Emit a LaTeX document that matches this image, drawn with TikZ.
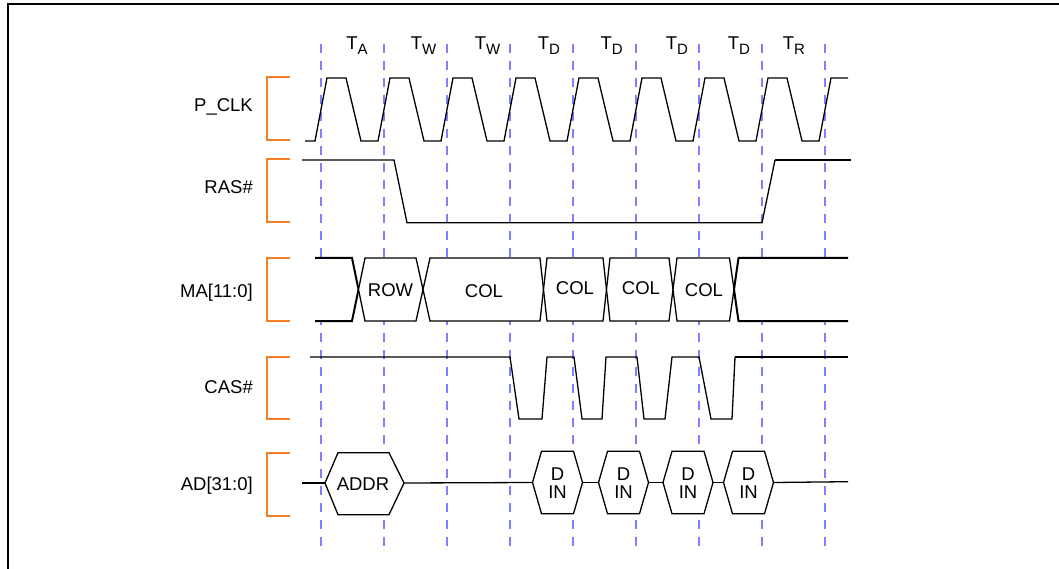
\documentclass[tikz,border=0pt]{standalone}
\usepackage{fontspec}
\setmainfont{Liberation Sans}
\definecolor{gridblue}{RGB}{128,128,255}
\definecolor{brorange}{RGB}{245,125,35}
\newcommand{\Tsub}[1]{T\raisebox{-5bp}{\fontsize{15bp}{15bp}\selectfont #1}}
\begin{document}
\begin{tikzpicture}[x=1bp,y=-1bp,
  sig/.style={draw=black, line width=1.3bp, line join=miter},
  heavy/.style={draw=black, line width=2bp},
  gridline/.style={draw=gridblue, line width=2bp, dash pattern=on 9bp off 8bp},
  brk/.style={draw=brorange, line width=2bp},
  lab/.style={font=\fontsize{18.5bp}{22bp}\selectfont, inner sep=0pt, anchor=base east},
  tlab/.style={font=\fontsize{18.5bp}{22bp}\selectfont, inner sep=0pt, anchor=base},
  bustxt/.style={font=\fontsize{18.5bp}{17.6bp}\selectfont, inner sep=0pt, align=center}
]
\useasboundingbox (0,0) rectangle (1059,569);
% frame
\draw[line width=2bp] (7.7,569) -- (7.7,4.2) -- (1059,4.2);

% grid lines
\foreach \i in {0,...,8}
  \draw[gridline] ({321+63*\i},44) -- ({321+63*\i},548);

% time labels
\node[tlab] (ta)  at (357,50)   {\Tsub{A}};
\node[tlab] (tw1) at (423.5,50) {\Tsub{W}};
\node[tlab] (tw2) at (487.5,50) {\Tsub{W}};
\node[tlab] (td1) at (549,50)   {\Tsub{D}};
\node[tlab] (td2) at (611.7,50) {\Tsub{D}};
\node[tlab] (td3) at (677,50)   {\Tsub{D}};
\node[tlab] (td4) at (739,50)   {\Tsub{D}};
\node[tlab] (tr)  at (794,50)   {\Tsub{R}};

% signal labels
\node[lab] (lclk) at (253,112)   {P\_CLK};
\node[lab] (lras) at (253,194)   {RAS\#};
\node[lab] (lma)  at (253,297.6) {MA[11:0]};
\node[lab] (lcas) at (253,393.5) {CAS\#};
\node[lab] (lad)  at (253,490)   {AD[31:0]};

% brackets
\foreach \t/\b in {77/140, 159/222, 258/321, 357/419, 453/516}
  \draw[brk] (290,\t) -- (267,\t) -- (267,\b) -- (290,\b);

% P_CLK
\draw[sig] (305,141) -- (315,141)
  \foreach \k in {0,...,7}{
    -- ({327+63*\k},78) -- ({346+63*\k},78) -- ({361+63*\k},141) -- ({378+63*\k},141)}
  -- (831,78) -- (848,78);

% RAS#
\draw[sig] (302,160) -- (394,160) -- (407,222.7) -- (762,222.7) -- (775,160);
\draw[heavy] (775,160) -- (851,160);

% MA[11:0]
\fill[white] (315,258) -- (352,258) -- (358.5,289.5) -- (352,321) -- (315,321) -- cycle;
\draw[heavy] (315,258) -- (352,258) -- (358.5,289.5) -- (352,321) -- (315,321);
\foreach \l/\r/\wl/\wr in {358.5/423/6.5/7, 423/543.5/7/3.5, 543.5/606.5/3.5/3.5, 606.5/673/3.5/4, 673/734/4/4.5}
  \filldraw[sig, fill=white] (\l,289.5) -- ({\l+\wl},258) -- ({\r-\wr},258) -- (\r,289.5) -- ({\r-\wr},321) -- ({\l+\wl},321) -- cycle;
\fill[white] (734,289.5) -- (738.5,258) -- (848,258) -- (848,321) -- (738.5,321) -- cycle;
\draw[heavy] (848,258) -- (738.5,258) -- (734,289.5) -- (738.5,321) -- (848,321);
\node[bustxt] (row)  at (390.5,290) {ROW};
\node[bustxt] (col1) at (484,291)   {COL};
\node[bustxt] (col2) at (575,288.5) {COL};
\node[bustxt] (col3) at (641,288.5) {COL};
\node[bustxt] (col4) at (704,290)   {COL};

% CAS#
\draw[sig] (310,357) -- (510,357) -- (519,419) -- (542,419) -- (547,357) -- (574,357)
  -- (582,419) -- (602,419) -- (606,357) -- (637,357) -- (644,419) -- (665,419)
  -- (672,357) -- (699,357) -- (711,419) -- (732,419) -- (735,357);
\draw[heavy] (735,357) -- (848,357);

% AD[31:0]
\draw[sig] (302,483) -- (325,483);
\filldraw[sig, fill=white] (325,483) -- (338,452.7) -- (389,452.7) -- (404,483) -- (389,514.7) -- (338,514.7) -- cycle;
\node[bustxt] (addr) at (363,483.7) {ADDR};
\draw[sig] (404,483) -- (532.5,482.5);
\foreach \L/\n in {532.5/1, 598.5/2, 663/3, 723.5/4}{
  \filldraw[sig, fill=white] (\L,482.5) -- ({\L+9},451.3) -- ({\L+41},451.3) -- ({\L+50},482.5) -- ({\L+41},513.7) -- ({\L+9},513.7) -- cycle;
  \node[bustxt] (din\n) at ({\L+25},483) {D\\IN};
}
\draw[sig] (582.5,482.5) -- (598.5,482.5);
\draw[sig] (648.5,482.5) -- (663,482.5);
\draw[sig] (713,482.5) -- (723.5,482.5);
\draw[sig] (773.5,482.5) -- (848,481.7);
\end{tikzpicture}
\end{document}
